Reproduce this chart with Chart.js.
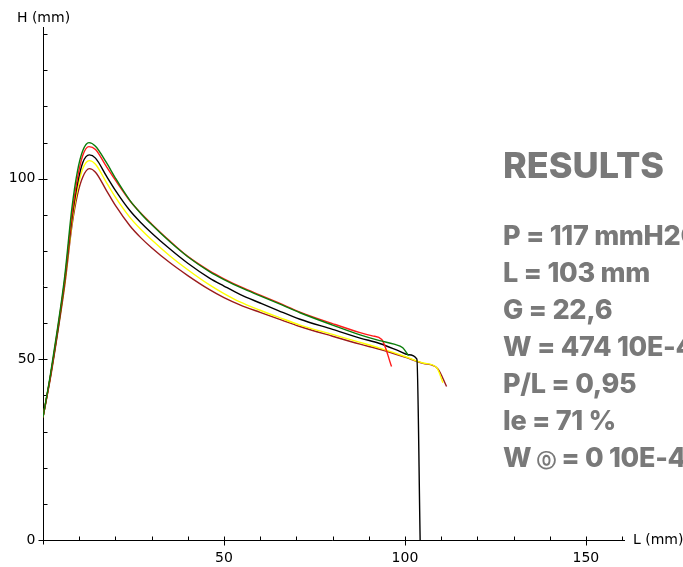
<!DOCTYPE html>
<html>
<head>
<meta charset="utf-8">
<script src="https://cdn.jsdelivr.net/npm/chart.js@4.4.1/dist/chart.umd.min.js"></script>
<style>
    html, body { margin: 0; padding: 0; background: #fff; overflow: hidden; }
    #wrap { position: relative; width: 683px; height: 567px; overflow: hidden; }
    #results {
        position: absolute; left: 503px; top: 144px;
        font-family: Inter, "Noto Sans", sans-serif; font-weight: 800;
        color: #797979; white-space: nowrap;
    }
    #results h1 { margin: 0 0 31px 0; font-size: 36px; font-weight: 800; line-height: 42px; }
    #results div { font-size: 27px; line-height: 37px; letter-spacing: -0.3px; }
    #results .circ { font-size: 0.72em; font-family: "DejaVu Sans", sans-serif; font-weight: bold; }
</style>
</head>
<body>
<div id="wrap">
    <canvas id="result-chart"></canvas>
    <div id="results">
        <h1>RESULTS</h1>
        <div>P = 117 mmH2O</div>
        <div>L = 103 mm</div>
        <div>G = 22,6</div>
        <div>W = 474 10E-4 J</div>
        <div>P/L = 0,95</div>
        <div>Ie = 71 %</div>
        <div>W <span class="circ">⓪</span> = 0 10E-4 J</div>
    </div>
</div>
<script>
// Curve values (L in mm, H in mm)
const greenL = [0, 2, 4, 6, 8, 9.5, 11, 12.7, 14.5, 17.5, 20, 24, 27, 30, 35, 40, 46, 50, 55, 60, 65, 71, 80, 87.6, 93, 97, 99.4, 101];
const greenH = [34, 45.5, 58.5, 73, 92, 102, 107.8, 110, 109, 104.5, 100.2, 94, 90.4, 87.3, 82.6, 78.4, 74.3, 72.1, 69.7, 67.6, 65.5, 62.9, 59.5, 56.8, 55.2, 54.2, 53.2, 51];

const redL = [0, 2, 4, 6, 8, 9.5, 11, 12.7, 14.5, 17.5, 20, 24, 27, 30, 35, 40, 46, 50, 55, 60, 65, 71, 80, 87.6, 91, 93.6, 96.3];
const redH = [34, 45, 58, 72, 90, 100, 106.5, 108.9, 108.1, 103.4, 99.6, 93.9, 90.5, 87.5, 82.8, 78.5, 74.5, 72.3, 69.9, 67.8, 65.7, 63.1, 59.9, 57.4, 56.5, 55.5, 48];

const blackL = [0, 2, 4, 6, 8, 9.5, 11, 12.8, 14.5, 17.5, 20, 24, 27, 30, 35, 40, 46, 50, 54.4, 60, 65, 71, 80, 87.6, 93, 98, 101, 103.3, 104.2];
const blackH = [34, 45, 57.5, 71.5, 89, 98.5, 104.5, 106.6, 105.7, 100.8, 96.8, 91.2, 87.9, 85, 80.6, 76.6, 72.5, 70.3, 68, 65.6, 63.5, 61.1, 58.3, 55.9, 54.4, 52.5, 51.3, 50.1, 0];

const yellowL = [0, 2, 4, 6, 8, 9.5, 11, 12.8, 14.5, 17.5, 20, 24, 27, 30, 35, 40, 46, 50, 54.4, 60, 65, 71, 80, 87.6, 93, 100, 105, 108.8, 110.5];
const yellowH = [34, 45, 57.5, 71, 88, 97, 102.8, 105, 104, 99, 94.9, 89.3, 86, 83.1, 78.7, 74.8, 70.6, 68.2, 65.9, 63.6, 61.7, 59.5, 56.9, 54.7, 53.1, 50.8, 49, 47.7, 43.5];

const maroonL = [0, 2, 4, 6, 8, 9.5, 11, 12.8, 14.5, 17.5, 20, 24, 27, 30, 35, 40, 46, 50, 54.4, 60, 65, 71, 80, 87.6, 93, 100, 105, 109, 111.5];
const maroonH = [34, 44.5, 57, 70.5, 87, 95.5, 100.5, 102.8, 101.8, 96.8, 92.6, 87, 83.7, 80.9, 76.8, 73.2, 69.3, 67.1, 65.1, 63, 61.2, 59.1, 56.4, 54.2, 52.8, 50.6, 48.9, 47.5, 42.5];

// Axis ticks
const xTicks = [10, 20, 30, 40, 50, 60, 70, 80, 90, 100, 110, 120, 130, 140, 150, 160];
const xLabels = [50, 100, 150];
const yTicks = [0, 10, 20, 30, 40, 50, 60, 70, 80, 90, 100, 110, 120, 130, 140];
const yLabels = [0, 50, 100];

const toPoints = (xs, ys) => xs.map((x, i) => ({ x: x, y: ys[i] }));

function curve(xs, ys, color) {
    return {
        data: toPoints(xs, ys),
        borderColor: color,
        borderWidth: 1.4,
        pointRadius: 0,
        showLine: true,
        cubicInterpolationMode: 'monotone',
        fill: false
    };
}

// Draws axes, ticks and axis labels through the chart scales
const axesPlugin = {
    id: 'axes',
    beforeDatasetsDraw(chart) {
        const ctx = chart.ctx;
        const xs = chart.scales.x;
        const ys = chart.scales.y;
        const x0 = Math.round(xs.getPixelForValue(0)) + 0.5;
        const y0 = Math.round(ys.getPixelForValue(0)) + 0.5;
        const xEnd = xs.getPixelForValue(xs.max);
        const yTop = ys.getPixelForValue(ys.max);

        ctx.save();
        ctx.strokeStyle = '#000';
        ctx.lineWidth = 1;
        ctx.beginPath();
        ctx.moveTo(x0 - 4, y0);
        ctx.lineTo(xEnd, y0);
        ctx.moveTo(x0, y0 + 4);
        ctx.lineTo(x0, yTop);

        xTicks.forEach(v => {
            const px = Math.round(xs.getPixelForValue(v)) + 0.5;
            const major = xLabels.includes(v);
            ctx.moveTo(px, y0 - 4);
            ctx.lineTo(px, y0 + (major ? 5 : 0));
        });
        yTicks.forEach(v => {
            const py = Math.round(ys.getPixelForValue(v)) + 0.5;
            const major = yLabels.includes(v);
            ctx.moveTo(x0 - (major ? 5 : 0), py);
            ctx.lineTo(x0 + 4, py);
        });
        ctx.stroke();

        ctx.fillStyle = '#000';
        ctx.font = '14px "DejaVu Sans", Verdana, sans-serif';
        ctx.textAlign = 'center';
        ctx.textBaseline = 'top';
        xLabels.forEach(v => ctx.fillText(String(v), xs.getPixelForValue(v), y0 + 11));

        ctx.textAlign = 'right';
        ctx.textBaseline = 'middle';
        yLabels.forEach(v => ctx.fillText(String(v), x0 - 8, ys.getPixelForValue(v)));

        ctx.textAlign = 'center';
        ctx.fillText('H (mm)', x0, 18);
        ctx.textAlign = 'left';
        ctx.fillText('L (mm)', xEnd + 8, y0);
        ctx.restore();
    }
};

new Chart(document.getElementById('result-chart'), {
    type: 'scatter',
    data: {
        datasets: [
            curve(greenL, greenH, '#0a7d0a'),
            curve(redL, redH, '#ff1a1a'),
            curve(blackL, blackH, '#000000'),
            curve(yellowL, yellowH, '#ffff00'),
            curve(maroonL, maroonH, '#9b1b1b')
        ]
    },
    options: {
        responsive: true,
        maintainAspectRatio: false,
        animation: false,
        layout: {
            padding: { left: 43, right: 58, top: 27, bottom: 27 }
        },
        plugins: {
            legend: { display: false },
            tooltip: { enabled: false }
        },
        scales: {
            x: { type: 'linear', display: false, min: 0, max: 160.8 },
            y: { type: 'linear', display: false, min: 0, max: 142 }
        }
    },
    plugins: [axesPlugin]
});
</script>
</body>
</html>
